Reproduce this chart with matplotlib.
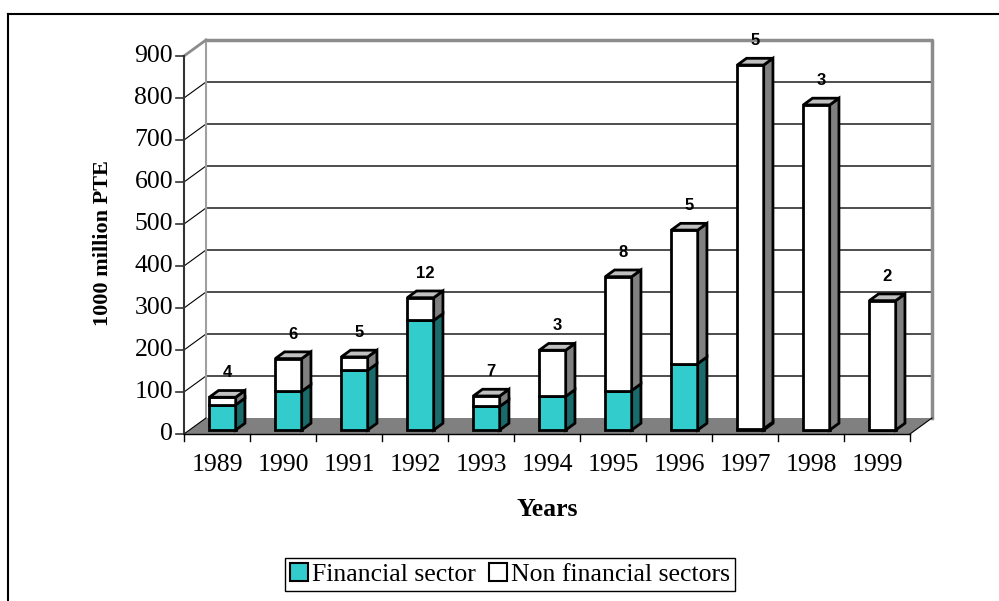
import numpy as np
import matplotlib
matplotlib.use('Agg')
import matplotlib.pyplot as plt
from matplotlib.patches import Polygon, Rectangle
from matplotlib.lines import Line2D

years = ['1989', '1990', '1991', '1992', '1993', '1994',
         '1995', '1996', '1997', '1998', '1999']
financial = [60, 92, 142, 261, 56, 80, 94, 158, 3, 0, 0]
non_financial = [18, 78, 32, 54, 25, 110, 271, 318, 866, 774, 308]
deals = [4, 6, 5, 12, 7, 3, 8, 5, 5, 3, 2]
yticks = np.arange(0, 901, 100)

plt.rcParams['font.family'] = ['Liberation Serif', 'DejaVu Serif']

TEAL = '#33cccc'
TEAL_SIDE = '#1a6b6b'
GREY = '#808080'
TOP = '#c0c0c0'


def main():
    fig = plt.figure(figsize=(9.99, 6.01), dpi=100)
    ax = fig.add_axes([0, 0, 1, 1])
    # pixel mapping: x px = 184 + 66*x, y px from bottom = 167 + 0.42*v
    ax.set_xlim(-184 / 66, (999 - 184) / 66)
    ax.set_ylim(-167 / 0.42, (601 - 167) / 0.42)
    ax.axis('off')

    n = len(years)
    ymax = yticks[-1]
    DX, DY = 22 / 66, 16 / 0.42

    # floor
    ax.add_patch(Polygon([(0, 0), (n, 0), (n + DX, DY), (DX, DY)],
                         closed=True, fc=GREY, ec='none', zorder=1))
    # back wall gridlines
    for v in yticks[1:-1]:
        ax.plot([DX, n + DX], [v + DY, v + DY], color='#4d4d4d', lw=1.4, zorder=1)
        ax.plot([0, DX], [v, v + DY], color='black', lw=0.8, zorder=1)
    ax.plot([0, DX], [0, DY], color='black', lw=0.8, zorder=2)
    # wall outline
    ax.plot([DX, n + DX, n + DX], [ymax + DY, ymax + DY, DY], color='#8c8c8c', lw=2.5, zorder=1)
    ax.plot([DX, DX], [DY, ymax + DY], color='#a0a0a0', lw=1.5, zorder=1)
    ax.plot([0, DX], [ymax, ymax + DY], color='#8c8c8c', lw=2, zorder=1)
    ax.plot([n, n + DX], [0, DY], color='black', lw=0.8, zorder=2)

    # value axis
    ax.plot([0, 0], [0, ymax], color='#333333', lw=1.5, zorder=3)
    for v in yticks:
        ax.plot([-8 / 66, 0], [v, v], color='#333333', lw=1.2, zorder=3)
        ax.text(-11 / 66, v, str(v), ha='right', va='center', fontsize=18.5)
    # category axis
    ax.plot([0, n], [0, 0], color='black', lw=1, zorder=3)
    for i in range(n + 1):
        ax.plot([i, i], [0, -7 / 0.42], color='black', lw=1, zorder=3)
    for i, yr in enumerate(years):
        ax.text(i + 0.5, -31 / 0.42, yr, ha='center', va='center', fontsize=18.5)

    ax.text(n / 2, -76 / 0.42, 'Years', ha='center', va='center',
            fontsize=18.5, fontweight='bold')
    ax.text(-81 / 66, (434 - 243) / 0.42, '1000 million PTE',
            ha='center', va='center', rotation=90, fontsize=16, fontweight='bold')

    # bars
    f0, f1 = 0.25, 0.67
    W = 0.4
    x0 = np.arange(n) + 0.5 - W / 2 + f0 * DX
    base = f0 * DY
    ddx, ddy = (f1 - f0) * DX, (f1 - f0) * DY
    fin = np.array(financial, dtype=float)
    non = np.array(non_financial, dtype=float)
    ax.bar(x0, fin, width=W, bottom=base, align='edge', color=TEAL,
           edgecolor='black', lw=2, zorder=4)
    ax.bar(x0, non, width=W, bottom=base + fin, align='edge', color='white',
           edgecolor='black', lw=2, zorder=4)
    for i in range(n):
        segs = [(base, base + fin[i], TEAL_SIDE), (base + fin[i], base + fin[i] + non[i], GREY)]
        for b, t, c in segs:
            if t - b <= 0:
                continue
            xr = x0[i] + W
            ax.add_patch(Polygon([(xr, b), (xr + ddx, b + ddy), (xr + ddx, t + ddy), (xr, t)],
                                 closed=True, fc=c, ec='black', lw=2, zorder=4))
        t = base + fin[i] + non[i]
        ax.add_patch(Polygon([(x0[i], t), (x0[i] + W, t), (x0[i] + W + ddx, t + ddy),
                              (x0[i] + ddx, t + ddy)],
                             closed=True, fc=TOP, ec='black', lw=2, zorder=4))
        ax.text(x0[i] + W / 2 + ddx / 2, t + 58, str(deals[i]), ha='center', va='center',
                fontsize=12, fontweight='bold', family='Liberation Sans', zorder=5)

    handles = [Rectangle((0, 0), 1, 1, fc=TEAL, ec='black', lw=1.5),
               Rectangle((0, 0), 1, 1, fc='white', ec='black', lw=1.5)]
    leg = ax.legend(handles, ['Financial sector', 'Non financial sectors'],
                    loc='center', bbox_to_anchor=(0.5105, 0.044),
                    bbox_transform=fig.transFigure, ncol=2, fancybox=False,
                    edgecolor='black', framealpha=1, handlelength=0.7,
                    handleheight=0.7, handletextpad=0.15, columnspacing=0.5,
                    borderpad=0.2, borderaxespad=0, prop={'size': 18.5})
    leg.get_frame().set_linewidth(1)

    # outer frame
    fig.add_artist(Line2D([8 / 999, 1], [1 - 14 / 601, 1 - 14 / 601],
                          transform=fig.transFigure, color='black', lw=1.5))
    fig.add_artist(Line2D([8 / 999, 8 / 999], [0, 1 - 14 / 601],
                          transform=fig.transFigure, color='black', lw=1.5))

    fig.savefig('out.png', dpi=100)


if __name__ == '__main__':
    main()
